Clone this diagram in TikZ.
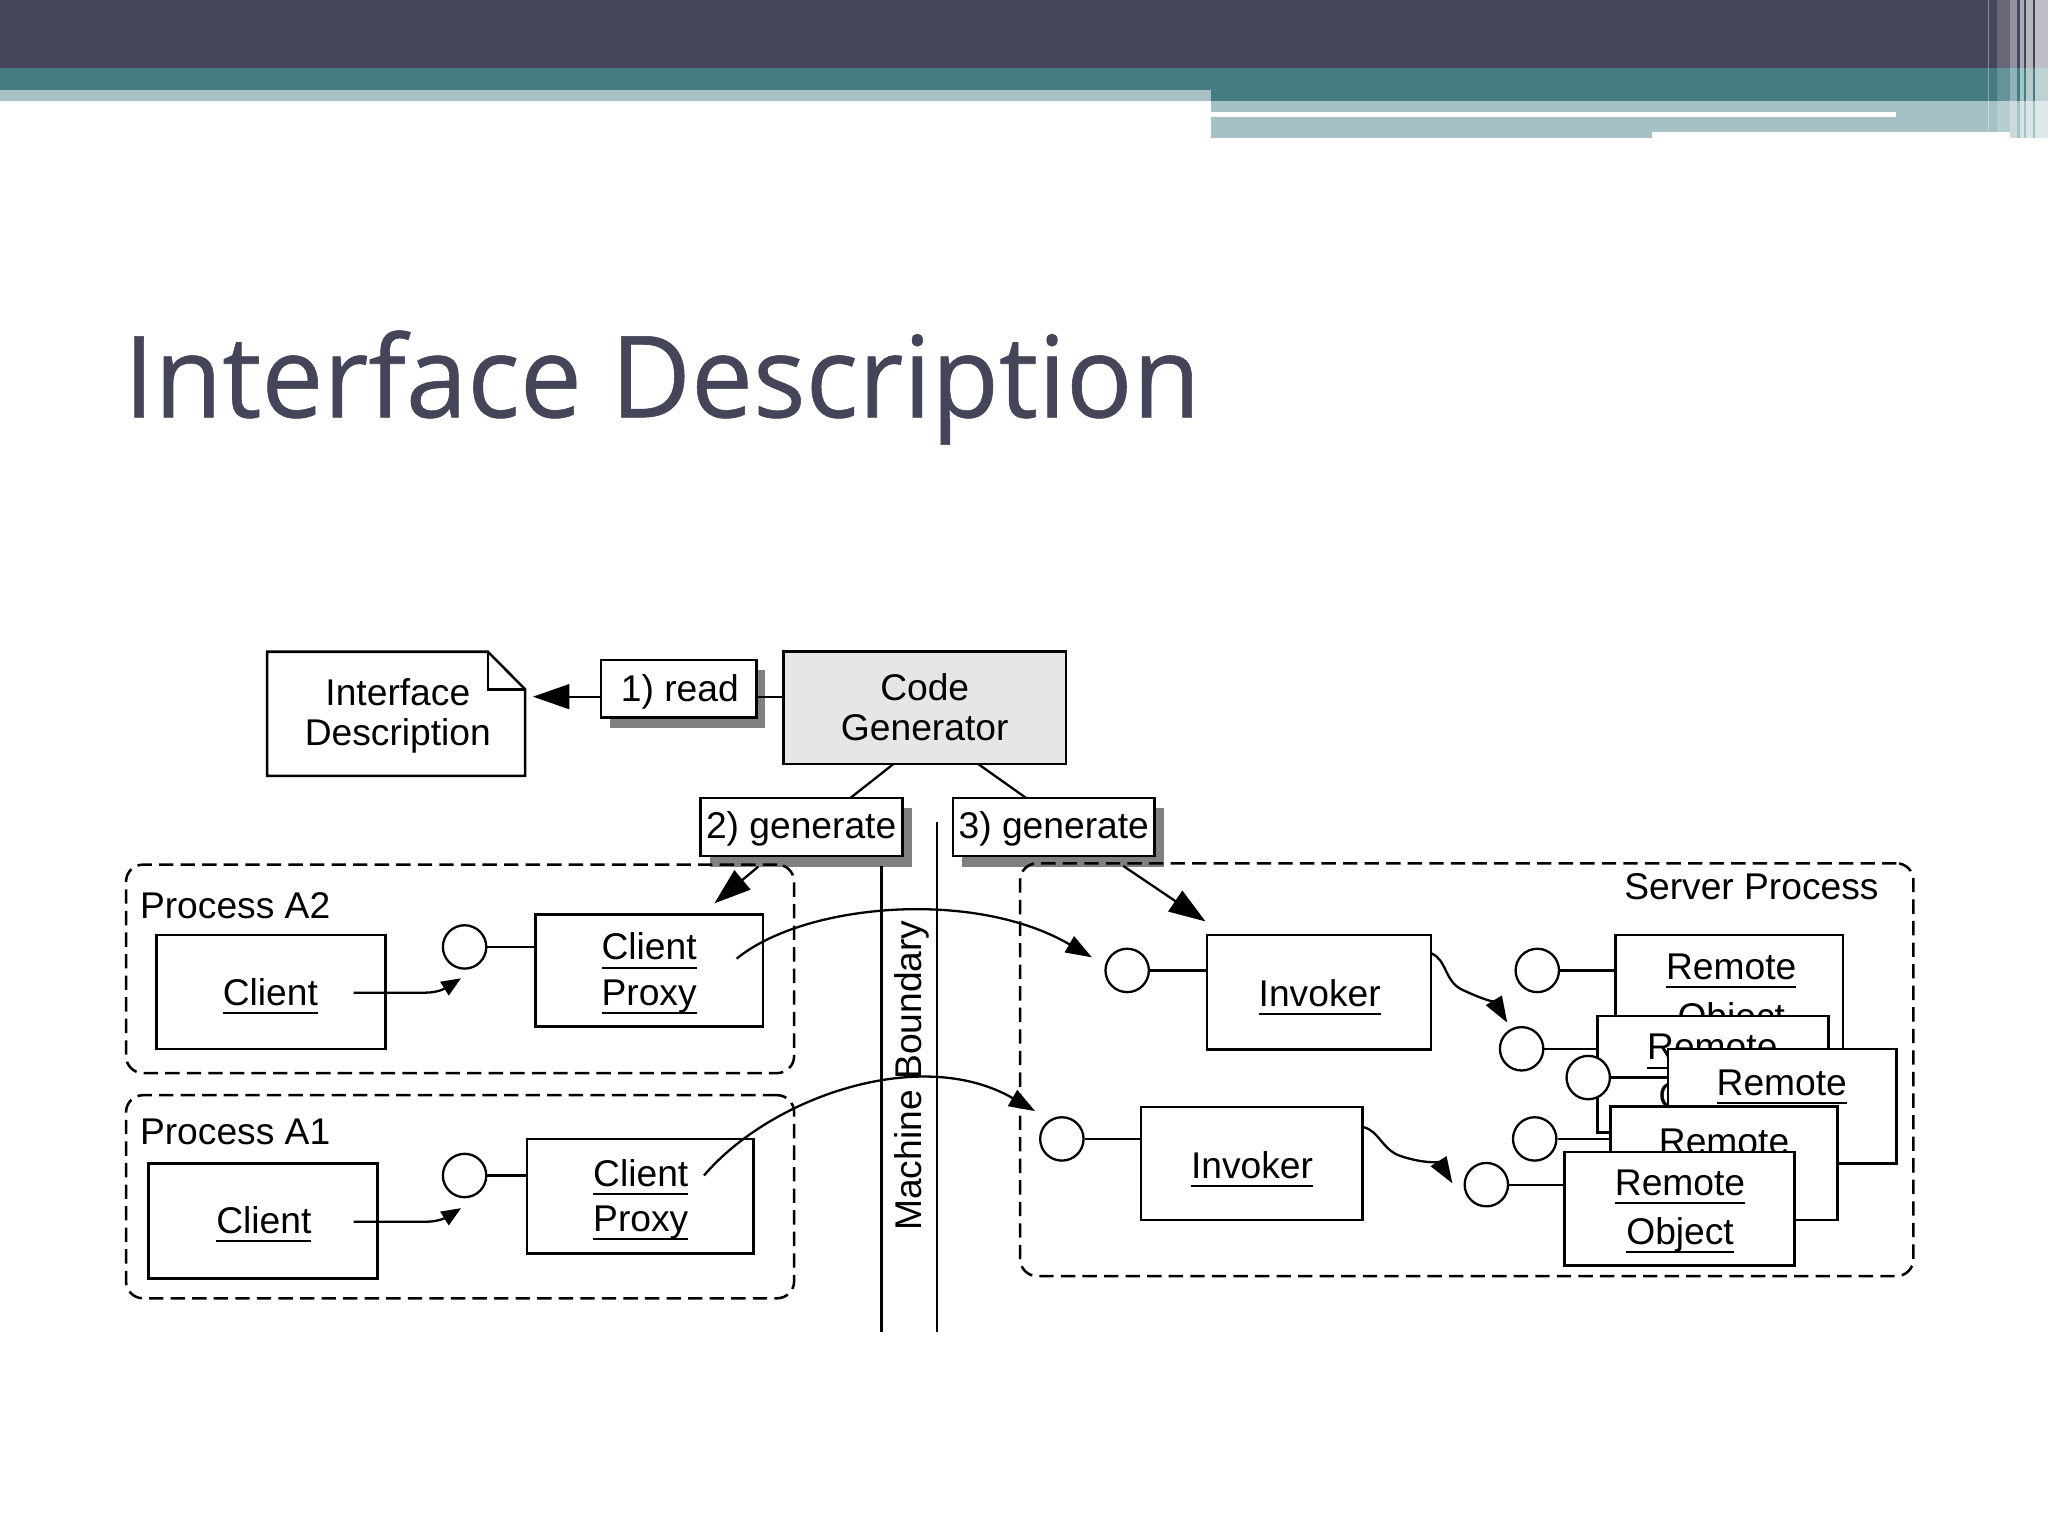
\documentclass[tikz,border=0pt]{standalone}
\usepackage{fontspec}
\setmainfont{Liberation Sans}
\newfontfamily\titlefont[FakeBold=0.5]{Open Sans}
\usetikzlibrary{arrows.meta,fit}
\definecolor{hdark}{HTML}{46465A}
\definecolor{hteal}{HTML}{457C83}
\definecolor{hlight}{HTML}{A5C1C6}
\definecolor{titlec}{HTML}{45455A}
\definecolor{cgfill}{HTML}{E6E6E6}
\definecolor{shadowc}{HTML}{808080}
\newcommand\ulx[1]{\setbox0\hbox{#1}\rlap{\rule[-1.9pt]{\wd0}{0.45pt}}\box0}
\begin{document}
\begin{tikzpicture}[x=0.01cm,y=-0.01cm,
  every node/.style={font=\fontsize{8.1}{9.7}\selectfont},
  box/.style={draw, line width=0.55pt, fill=white, inner sep=0pt},
  cgbox/.style={box, fill=cgfill},
  procbox/.style={draw, line width=0.55pt, dash pattern=on 0.11cm off 0.055cm, rounded corners=0.13cm, inner sep=0pt},
  txt/.style={anchor=base, inner sep=0pt},
  port/.style={draw, circle, line width=0.5pt, fill=white, minimum size=0.332cm, inner sep=0pt},
  conn/.style={line width=0.5pt},
  bigarrow/.style={conn, -{Triangle[length=0.28cm,width=0.19cm]}},
  medarrow/.style={conn, -{Triangle[length=0.2cm,width=0.14cm]}},
  smallarrow/.style={conn, -{Triangle[length=0.15cm,width=0.12cm]}},
  shadowfill/.style={fill=shadowc}
]
\useasboundingbox (0,0) rectangle (1568,1176);
\fill[white] (0,0) rectangle (1568,1176);
% ---------------- header ----------------
\fill[hdark] (0,0) rectangle (1568,52.3);
\fill[hteal] (0,52.3) rectangle (1568,68.9);
\fill[hteal] (927,68.9) rectangle (1568,77);
\fill[hlight] (0,68.9) rectangle (927,77);
\fill[hlight] (927,77) rectangle (1568,106);
\fill[white] (927,85.5) rectangle (1452,89.8);
\fill[white] (1265,100.8) rectangle (1539,106.5);
\fill[white,opacity=0.35] (1521.7,0) rectangle (1523,100.8);
\fill[white,opacity=0.18] (1528.8,0) rectangle (1539,100.8);
\fill[white,opacity=0.42] (1539,0) rectangle (1544,106);
\fill[white,opacity=0.55] (1546.7,0) rectangle (1549.8,106);
\fill[white,opacity=0.6] (1551.3,0) rectangle (1556.8,106);
\fill[white,opacity=0.65] (1558,0) rectangle (1568,106);
% ---------------- title ----------------
\node[anchor=base west, inner sep=0pt, text=titlec] (title) at (94,319.5)
  {\resizebox{8.24cm}{\height}{\titlefont\fontsize{24.7}{30}\selectfont Interface Description}};
% ---------------- top row ----------------
\node[fit={(204.6,499) (402,594)}, inner sep=0pt] (idesc) {};
\draw[line width=0.55pt, fill=white] (204.6,499) -- (373.6,499) -- (402,527.7) -- (402,594) -- (204.6,594) -- cycle;
\draw[line width=0.55pt] (373.6,499) -- (373.6,527.7) -- (402,527.7);
\node[txt] (tid1) at (304.6,540) {Interface};
\node[txt] (tid2) at (304.6,571) {Description};

\fill[shadowfill] (467,513) rectangle (586,557);
\node[box, fit={(460,505.4) (579,549.3)}] (read) {};
\node[txt] (tread) at (520.5,537) {1) read};

\node[cgbox, fit={(600,499) (816,585)}] (cg) {};
\node[txt] (tcg1) at (708,536) {Code};
\node[txt] (tcg2) at (708,567) {Generator};

\coordinate (rdTip) at (408,533.4);
\draw[bigarrow] (read.west |- rdTip) -- (rdTip);
\draw[conn] (read.east |- rdTip) -- (cg.west |- rdTip);

\fill[shadowfill] (543.5,619) rectangle (698,663.5);
\node[box, fit={(536.5,611) (691,655.5)}] (gen2) {};
\node[txt] (tgen2) at (613.4,642) {2) generate};
\fill[shadowfill] (736.7,619) rectangle (891,663.5);
\node[box, fit={(729.7,611) (884,655.5)}] (gen3) {};
\node[txt] (tgen3) at (806.8,642) {3) generate};

\coordinate (cgL) at (684,585);
\coordinate (cgR) at (749,585);
\coordinate (g2top) at (651,611);
\coordinate (g3top) at (785.7,611);
\draw[conn] (cgL) -- (g2top);
\draw[conn] (cgR) -- (g3top);

% ---------------- machine boundary ----------------
\coordinate (mb1a) at (675,663); \coordinate (mb1b) at (675,1020);
\coordinate (mb2a) at (717.6,629); \coordinate (mb2b) at (717.6,1020);
\draw[conn] (mb1a) -- (mb1b);
\draw[conn] (mb2a) -- (mb2b);
\node[txt, rotate=90] (tmb) at (705.7,823.5) {Machine Boundary};

% ---------------- process A2 ----------------
\node[procbox, fit={(96.5,662) (608,821.6)}] (pA2) {};
\node[txt, anchor=base west] (lA2) at (106.5,703) {Process A2};
\node[box, fit={(120,716) (295,803)}] (clA2) {};
\node[txt] (tclA2) at (207,769.6) {\ulx{Client}};
\node[port] (oA2) at (355.7,725) {};
\node[box, fit={(410,700) (584,786)}] (cpA2) {};
\node[txt] (tcpA2a) at (497,735) {\ulx{Client}};
\node[txt] (tcpA2b) at (497,769.5) {\ulx{Proxy}};
\draw[conn] (oA2) -- (oA2 -| cpA2.west);
\coordinate (sA2) at (270.7,760); \coordinate (eA2) at (353,749);
\draw[smallarrow] (sA2) -- (326,760) to[out=0,in=212] (eA2);

% ---------------- process A1 ----------------
\node[procbox, fit={(96.5,838.5) (608,994)}] (pA1) {};
\node[txt, anchor=base west] (lA1) at (106.5,876) {Process A1};
\node[box, fit={(113.5,891) (289,979)}] (clA1) {};
\node[txt] (tclA1) at (202,944.4) {\ulx{Client}};
\node[port] (oA1) at (355.7,900) {};
\node[box, fit={(403.4,872) (577,959.6)}] (cpA1) {};
\node[txt] (tcpA1a) at (490.6,908.6) {\ulx{Client}};
\node[txt] (tcpA1b) at (490.6,943) {\ulx{Proxy}};
\draw[conn] (oA1) -- (oA1 -| cpA1.west);
\coordinate (sA1) at (270.8,935.4); \coordinate (eA1) at (353,925);
\draw[smallarrow] (sA1) -- (326,935.4) to[out=0,in=212] (eA1);

% ---------------- server process ----------------
\node[procbox, fit={(781,661) (1465,977)}] (srv) {};
\node[txt, anchor=base east] (lsrv) at (1439,689) {Server Process};

\node[port] (oi1) at (863,743) {};
\node[box, fit={(924,716) (1095.5,803.5)}] (inv1) {};
\node[txt] (tinv1) at (1010.4,770.8) {\ulx{Invoker}};
\draw[conn] (oi1) -- (oi1 -| inv1.west);

\node[port] (oi2) at (813,872) {};
\node[box, fit={(873.4,847.4) (1043,934.2)}] (inv2) {};
\node[txt] (tinv2) at (958.6,902.2) {\ulx{Invoker}};
\draw[conn] (oi2) -- (oi2 -| inv2.west);

% generate arrows
\coordinate (g2a) at (580.5,663.6); \coordinate (g2tip) at (547,691.6);
\draw[bigarrow] (g2a) -- (g2tip);
\coordinate (g3a) at (860,663); \coordinate (g3tip) at (923,705.5);
\draw[bigarrow] (g3a) -- (g3tip);

% remote calls across the boundary
\coordinate (cA2s) at (564,734); \coordinate (cA2t) at (836,733);
\draw[medarrow] (cA2s) .. controls (615,692) and (745,680) .. (cA2t);
\coordinate (cA1s) at (539,900); \coordinate (cA1t) at (792.5,850.7);
\draw[medarrow] (cA1s) .. controls (590,840) and (705,800) .. (cA1t);

% remote objects (stacked, each partly hiding the one behind)
\node[port] (c1) at (1177,743) {};
\node[box, fit={(1237,716) (1411,803)}] (ro1) {};
\node[txt] (tro1a) at (1325.5,750) {\ulx{Remote}};
\node[txt] (tro1b) at (1325.5,788) {\ulx{Object}};
\draw[conn] (c1) -- (c1 -| ro1.west);

\node[box, fit={(1223,778) (1400,867)}] (ro2) {};
\node[txt] (tro2a) at (1311,811.5) {\ulx{Remote}};
\node[txt] (tro2b) at (1311,849) {\ulx{Object}};
\node[port] (c2) at (1165,803) {};
\draw[conn] (c2) -- (c2 -| ro2.west);
\node[port] (c3) at (1216,825) {};

\node[box, fit={(1277,803) (1452,891)}] (ro3) {};
\draw[conn] (c3) -- (c3 -| ro3.west);
\node[txt] (tro3a) at (1364.2,838.4) {\ulx{Remote}};

\node[port] (c4) at (1175,872) {};
\node[box, fit={(1233,847) (1407,934)}] (ro4) {};
\draw[conn] (c4) -- (c4 -| ro4.west);
\node[txt] (tro4a) at (1320,884) {\ulx{Remote}};

\node[port] (c5) at (1138,907) {};
\node[box, fit={(1198,882) (1374,969)}] (ro5) {};
\draw[conn] (c5) -- (c5 -| ro5.west);
\node[txt] (tro5a) at (1286.3,915) {\ulx{Remote}};
\node[txt] (tro5b) at (1286.3,953) {\ulx{Object}};

% invoker -> remote object squiggles
\coordinate (q1s) at (1096,730); \coordinate (q1t) at (1154,783);
\draw[medarrow] (q1s) .. controls (1108,735) and (1106,752) .. (1120,758)
  .. controls (1135,765) and (1145,768) .. (q1t);
\coordinate (q2s) at (1044,863); \coordinate (q2t) at (1112,906);
\draw[medarrow] (q2s) .. controls (1056,866) and (1058,880) .. (1072,885)
  .. controls (1090,891) and (1102,890) .. (q2t);
\end{tikzpicture}
\end{document}
